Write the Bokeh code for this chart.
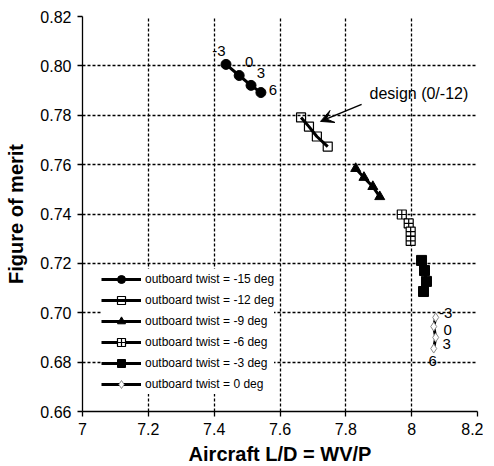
from bokeh.plotting import figure
from bokeh.models import Range1d, FixedTicker, Arrow, VeeHead, Label, ColumnDataSource
from bokeh.core.properties import value
from bokeh.embed import file_html
from bokeh.resources import INLINE

FONT = "Liberation Sans"

# ---- axes ----
x_ticks = [7.0, 7.2, 7.4, 7.6, 7.8, 8.0, 8.2]
x_tick_labels = ["7", "7.2", "7.4", "7.6", "7.8", "8", "8.2"]
y_ticks = [0.66, 0.68, 0.70, 0.72, 0.74, 0.76, 0.78, 0.80, 0.82]
y_tick_labels = ["0.66", "0.68", "0.70", "0.72", "0.74", "0.76", "0.78", "0.80", "0.82"]
x_title = "Aircraft L/D = WV/P"
y_title = "Figure of merit"

# ---- series (inboard twist points -3, 0, 3, 6) ----
legend_labels = [
    "outboard twist = -15 deg",
    "outboard twist = -12 deg",
    "outboard twist = -9 deg",
    "outboard twist = -6 deg",
    "outboard twist = -3 deg",
    "outboard twist = 0 deg",
]
ld_m15 = [7.436, 7.476, 7.512, 7.542]
fom_m15 = [0.8006, 0.7961, 0.7921, 0.7892]
ld_m12 = [7.664, 7.688, 7.712, 7.745]
fom_m12 = [0.7791, 0.7754, 0.7714, 0.7673]
ld_m9 = [7.830, 7.855, 7.882, 7.903]
fom_m9 = [0.7584, 0.7548, 0.7511, 0.7470]
ld_m6 = [7.970, 7.991, 7.997, 7.997]
fom_m6 = [0.7398, 0.7362, 0.7329, 0.7291]
ld_m3 = [8.030, 8.039, 8.045, 8.036]
fom_m3 = [0.7212, 0.7171, 0.7127, 0.7086]
ld_0 = [8.073, 8.067, 8.073, 8.067]
fom_0 = [0.6981, 0.6944, 0.6900, 0.6855]

point_labels = ["-3", "0", "3", "6"]
annotation_text = "design (0/-12)"

# ---- figure ----
p = figure(width=483, height=464, frame_width=395, frame_height=395,
           output_backend="svg", toolbar_location=None,
           x_range=Range1d(7.0, 8.2), y_range=Range1d(0.66, 0.82),
           min_border_left=82, min_border_right=6, min_border_top=16, min_border_bottom=53)
p.outline_line_color = None
p.background_fill_color = "white"
p.border_fill_color = "white"

p.xaxis.ticker = FixedTicker(ticks=x_ticks)
p.yaxis.ticker = FixedTicker(ticks=y_ticks)
p.xaxis.major_label_overrides = dict(zip(x_ticks, x_tick_labels))
p.yaxis.major_label_overrides = dict(zip(y_ticks, y_tick_labels))
for ax in (p.xaxis[0], p.yaxis[0]):
    ax.major_tick_out = 5
    ax.major_tick_in = 0
    ax.minor_tick_out = 0
    ax.minor_tick_in = 0
    ax.axis_line_color = "black"
    ax.axis_line_width = 1.3
    ax.major_tick_line_color = "black"
    ax.major_tick_line_width = 1.3
    ax.major_label_text_font = FONT
    ax.major_label_text_font_size = "16px"
    ax.major_label_text_color = "black"
    ax.axis_label_text_font = FONT
    ax.axis_label_text_font_size = "20px"
    ax.axis_label_text_font_style = "bold"
    ax.axis_label_text_color = "black"
p.xaxis.axis_label = x_title
p.yaxis.axis_label = y_title
p.xaxis.major_label_standoff = 6
p.yaxis.major_label_standoff = 6
p.xaxis.axis_label_standoff = 5
p.yaxis.axis_label_standoff = 10

for g in (p.xgrid[0], p.ygrid[0]):
    g.grid_line_color = "black"
    g.grid_line_dash = "3 2"
    g.grid_line_width = 1.3
p.xgrid.ticker = FixedTicker(ticks=x_ticks)
p.ygrid.ticker = FixedTicker(ticks=y_ticks)

LW = 3
# -15: filled circles
p.line(ld_m15, fom_m15, line_color="black", line_width=LW, legend_label=legend_labels[0])
p.scatter(ld_m15, fom_m15, marker="circle", size=10, fill_color="black", line_color="black",
          legend_label=legend_labels[0])
# -12: open squares
p.line(ld_m12, fom_m12, line_color="black", line_width=LW, legend_label=legend_labels[1])
p.scatter(ld_m12, fom_m12, marker="square", size=9, fill_alpha=0, line_color="black", line_width=1.2,
          legend_label=legend_labels[1])
# -9: filled triangles
p.line(ld_m9, fom_m9, line_color="black", line_width=LW, legend_label=legend_labels[2])
p.scatter(ld_m9, fom_m9, marker="triangle", size=10, fill_color="black", line_color="black",
          legend_label=legend_labels[2])
# -6: squares with cross
p.line(ld_m6, fom_m6, line_color="black", line_width=LW, legend_label=legend_labels[3])
p.scatter(ld_m6, fom_m6, marker="square_cross", size=9, fill_color="white", line_color="black",
          line_width=1.2, legend_label=legend_labels[3])
# -3: filled squares
p.line(ld_m3, fom_m3, line_color="black", line_width=LW, legend_label=legend_labels[4])
p.scatter(ld_m3, fom_m3, marker="square", size=10, fill_color="black", line_color="black",
          legend_label=legend_labels[4])
# 0: open diamonds
p.line(ld_0, fom_0, line_color="black", line_width=LW, legend_label=legend_labels[5])
p.scatter(ld_0, fom_0, marker="diamond", size=9, fill_color="white", line_color="#888888",
          line_width=1, legend_label=legend_labels[5])

# point labels (offsets in screen px, +y is downward)
lab_m15 = ColumnDataSource(dict(x=ld_m15, y=fom_m15, t=point_labels,
                                dx=[-7, 10, 10, 12], dy=[-13, -14, -12, -3]))
p.text("x", "y", "t", source=lab_m15, x_offset="dx", y_offset="dy",
       text_align="center", text_baseline="middle", text_font=value(FONT),
       text_font_size="15px", text_color="black")
lab_0 = ColumnDataSource(dict(x=ld_0, y=fom_0, t=point_labels,
                              dx=[10, 14, 11, -1], dy=[-4, 3, 7, 12]))
p.text("x", "y", "t", source=lab_0, x_offset="dx", y_offset="dy",
       text_align="center", text_baseline="middle", text_font=value(FONT),
       text_font_size="15px", text_color="black")

# annotation
p.add_layout(Arrow(end=VeeHead(size=13, fill_color="black", line_color="black"),
                   x_start=7.848, y_start=0.7844, x_end=ld_m12[1] + 0.035, y_end=fom_m12[1] + 0.0021,
                   line_color="black", line_width=1.5))
p.add_layout(Label(x=7.872, y=0.7888, text=annotation_text, text_font=FONT,
                   text_font_size="16px", text_baseline="middle", text_align="left",
                   text_color="black"))

lg = p.legend[0]
lg.location = (19, 17)
lg.background_fill_color = "white"
lg.background_fill_alpha = 1
lg.border_line_color = None
lg.label_text_font = FONT
lg.label_text_font_size = "12px"
lg.label_text_color = "black"
lg.glyph_width = 40
lg.glyph_height = 20
lg.spacing = 1
lg.padding = 5
lg.margin = 0
lg.label_standoff = 4
lg.label_height = 20

open("out.html", "w").write(file_html(p, INLINE))
